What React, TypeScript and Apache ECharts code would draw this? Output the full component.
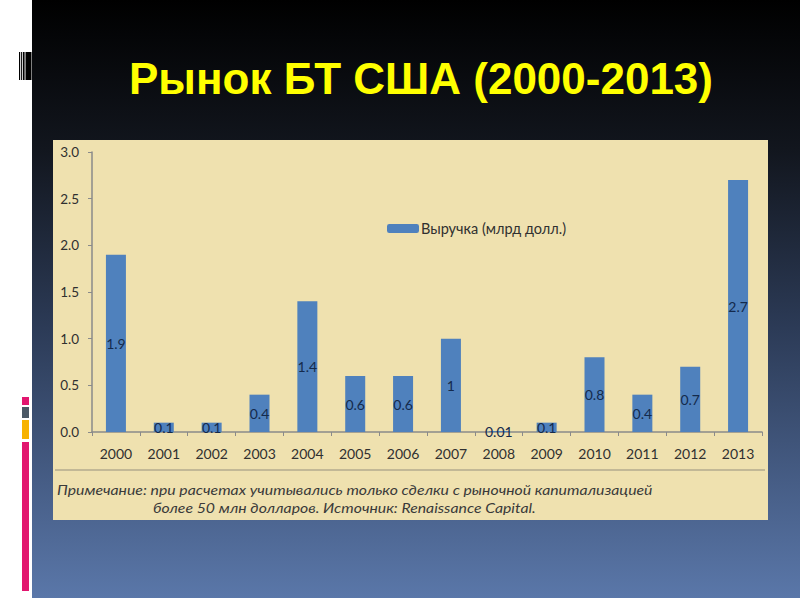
import React, { useEffect, useRef } from "react";
import * as echarts from "echarts";

const title = "Рынок БТ США (2000-2013)";
const years = ["2000", "2001", "2002", "2003", "2004", "2005", "2006", "2007", "2008", "2009", "2010", "2011", "2012", "2013"];
const revenue = [1.9, 0.1, 0.1, 0.4, 1.4, 0.6, 0.6, 1, 0.01, 0.1, 0.8, 0.4, 0.7, 2.7];
const seriesName = "Выручка (млрд долл.)";
const noteLine1 = "Примечание: при расчетах учитывались только сделки с рыночной капитализацией";
const noteLine2 = "более 50 млн долларов. Источник: Renaissance Capital.";

const FONT = "Lato, 'Open Sans', sans-serif";

export default function App() {
  const ref = useRef<HTMLDivElement>(null);
  useEffect(() => {
    const chart = echarts.init(ref.current!, null, { renderer: "svg" });
    chart.setOption({
      animation: false,
      backgroundColor: "#ffffff",
      graphic: [
        {
          type: "rect",
          z: -10,
          shape: { x: 32, y: 0, width: 768, height: 598 },
          style: {
            fill: new echarts.graphic.LinearGradient(0, 0, 0, 1, [
              { offset: 0, color: "#000000" },
              { offset: 0.25, color: "#12161e" },
              { offset: 0.55, color: "#2c3b57" },
              { offset: 1, color: "#5a77a9" },
            ]),
          },
        },
        // barcode
        { type: "rect", z: -5, shape: { x: 19, y: 52, width: 12.5, height: 28 }, style: { fill: "#000" } },
        { type: "rect", z: -4, shape: { x: 20.2, y: 52, width: 0.9, height: 28 }, style: { fill: "#fff" } },
        { type: "rect", z: -4, shape: { x: 22.2, y: 52, width: 0.8, height: 28 }, style: { fill: "#fff" } },
        { type: "rect", z: -4, shape: { x: 24.6, y: 52, width: 0.9, height: 28 }, style: { fill: "#fff" } },
        // colored squares
        { type: "rect", z: -5, shape: { x: 22, y: 397, width: 7, height: 8 }, style: { fill: "#e2166f" } },
        { type: "rect", z: -5, shape: { x: 22, y: 407, width: 7, height: 11 }, style: { fill: "#4b5966" } },
        { type: "rect", z: -5, shape: { x: 22, y: 420, width: 7, height: 19 }, style: { fill: "#f7b200" } },
        { type: "rect", z: -5, shape: { x: 22, y: 442, width: 7, height: 149 }, style: { fill: "#e2166f" } },
        // title
        {
          type: "text",
          z: 5,
          x: 421,
          y: 78,
          style: {
            text: title,
            fill: "#ffff00",
            font: "bold 44px 'Liberation Sans', Arial, sans-serif",
            align: "center",
            verticalAlign: "middle",
          },
        },
        // chart panel
        { type: "rect", z: -3, shape: { x: 53, y: 140, width: 715, height: 380 }, style: { fill: "#efe1af" } },
        { type: "line", z: -2, shape: { x1: 55, y1: 470, x2: 765, y2: 470 }, style: { stroke: "#b3aa8e", lineWidth: 1.5 } },
        {
          type: "text",
          z: 5,
          x: 57,
          y: 489,
          scaleX: 1.13,
          style: { text: noteLine1, fill: "#3a3a3a", font: "italic 14px " + FONT, verticalAlign: "middle" },
        },
        {
          type: "text",
          z: 5,
          x: 153,
          y: 507,
          scaleX: 1.13,
          style: { text: noteLine2, fill: "#3a3a3a", font: "italic 14px " + FONT, verticalAlign: "middle" },
        },
      ],
      legend: {
        left: 382,
        top: 216,
        itemWidth: 32,
        itemHeight: 9,
        itemGap: 4,
        textStyle: { color: "#303030", fontSize: 14.5, fontFamily: FONT, padding: [0, 0, 0, -3] },
        data: [seriesName],
      },
      grid: { left: 92, right: 38, top: 152, bottom: 168, containLabel: false },
      xAxis: {
        type: "category",
        data: years,
        axisLine: { lineStyle: { color: "#8a8a8a", width: 1.5 } },
        axisTick: { show: true, length: 4, lineStyle: { color: "#8a8a8a" } },
        axisLabel: { color: "#303030", fontSize: 14, fontFamily: FONT, margin: 14 },
      },
      yAxis: {
        type: "value",
        min: 0,
        max: 3,
        interval: 0.5,
        axisLine: { show: true, lineStyle: { color: "#8a8a8a", width: 1.5 } },
        axisTick: { show: true, length: 4, lineStyle: { color: "#8a8a8a" } },
        splitLine: { show: false },
        axisLabel: {
          color: "#303030",
          fontSize: 13.5,
          fontFamily: FONT,
          margin: 13,
          formatter: (v: number) => v.toFixed(1),
        },
      },
      series: [
        {
          name: seriesName,
          type: "bar",
          data: revenue,
          barWidth: 20,
          itemStyle: { color: "#4f81bd" },
          label: {
            show: true,
            position: "inside",
            color: "#142a4c",
            fontSize: 14,
            fontFamily: FONT,
            formatter: (p: any) => String(p.value),
          },
        },
      ],
    });
    return () => chart.dispose();
  }, []);
  return <div ref={ref} style={{ position: "fixed", left: 0, top: 0, width: 800, height: 600 }} />;
}
